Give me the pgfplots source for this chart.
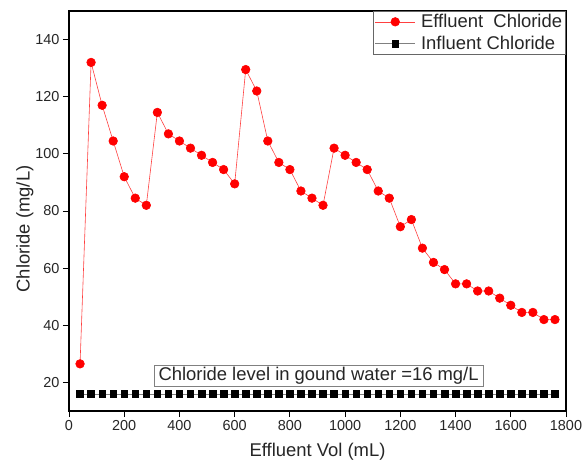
\documentclass[border=0pt]{standalone}
\usepackage{pgfplots}
\pgfplotsset{compat=1.18}
\usepackage{fontspec}
\setmainfont{Liberation Sans}

\begin{document}
\begin{tikzpicture}
\begin{axis}[
  scale only axis, width=497bp, height=400bp,
  xmin=0, xmax=1800, ymin=10, ymax=150,
  xtick={0,200,...,1800}, ytick={20,40,...,140},
  tick align=outside, xtick pos=bottom, ytick pos=left,
  major tick length=6bp,
  tick style={black, line width=1pt},
  axis line style={line width=1.2pt},
  ticklabel style={font=\fontsize{14.5}{17}\selectfont, text=black!85},
  /pgf/number format/assume math mode=true,
  /pgf/number format/1000 sep={},
  xlabel={Effluent Vol (mL)}, ylabel={Chloride (mg/L)},
  label style={font=\fontsize{18.5}{22}\selectfont, text=black!85},
  xlabel style={at={(axis description cs:0.5,-0.1025)}, anchor=center},
  ylabel style={at={(axis description cs:-0.089,0.455)}, anchor=center, rotate=0},
  legend style={at={(rel axis cs:1,1)}, anchor=north east, draw=gray!80!black, line width=0.8pt,
    font=\fontsize{18.5}{22}\selectfont, text=black!85, inner xsep=2bp, inner ysep=1.5bp,
    nodes={inner sep=1.5bp}, row sep=4bp, /tikz/every odd column/.style={column sep=4bp}},
  legend cell align=left,
  legend image code/.code={\draw[mark repeat=2,mark phase=2] plot coordinates {(0bp,0bp) (20bp,0bp) (40bp,0bp)};},
]
\addplot[red!75!white, line width=0.6pt, mark=*, mark size=4.3bp, mark options={fill=red, draw=red, solid}] coordinates {
(40,26.5) (80,132) (120,117) (160,104.5) (200,92) (240,84.5) (280,82)
(320,114.5) (360,107) (400,104.5) (440,102) (480,99.5) (520,97) (560,94.5) (600,89.5)
(640,129.5) (680,122) (720,104.5) (760,97) (800,94.5) (840,87) (880,84.5) (920,82)
(960,102) (1000,99.5) (1040,97) (1080,94.5) (1120,87) (1160,84.5) (1200,74.5) (1240,77)
(1280,67) (1320,62) (1360,59.5) (1400,54.5) (1440,54.5) (1480,52) (1520,52) (1560,49.5)
(1600,47) (1640,44.5) (1680,44.5) (1720,42) (1760,42)
};
\addlegendentry{Effluent\ \ Chloride}
\addplot[gray, line width=0.6pt, mark=square*, mark size=3.3bp, mark options={fill=black, draw=black, solid}] coordinates {
(40,16) (80,16) (120,16) (160,16) (200,16) (240,16) (280,16)
(320,16) (360,16) (400,16) (440,16) (480,16) (520,16) (560,16) (600,16)
(640,16) (680,16) (720,16) (760,16) (800,16) (840,16) (880,16) (920,16)
(960,16) (1000,16) (1040,16) (1080,16) (1120,16) (1160,16) (1200,16) (1240,16)
(1280,16) (1320,16) (1360,16) (1400,16) (1440,16) (1480,16) (1520,16) (1560,16)
(1600,16) (1640,16) (1680,16) (1720,16) (1760,16)
};
\addlegendentry{Influent Chloride}
\node[draw=gray, line width=0.8pt, fill=white, inner xsep=4.5bp, inner ysep=1.8bp, font=\fontsize{18.5}{22}\selectfont, text=black!85] at (axis cs:904,22.2) {Chloride level in gound water =16 mg/L};
\end{axis}
\pgfresetboundingbox
\path[use as bounding box] (-69bp,-53bp) rectangle (516bp,411bp);
\end{tikzpicture}
\end{document}
